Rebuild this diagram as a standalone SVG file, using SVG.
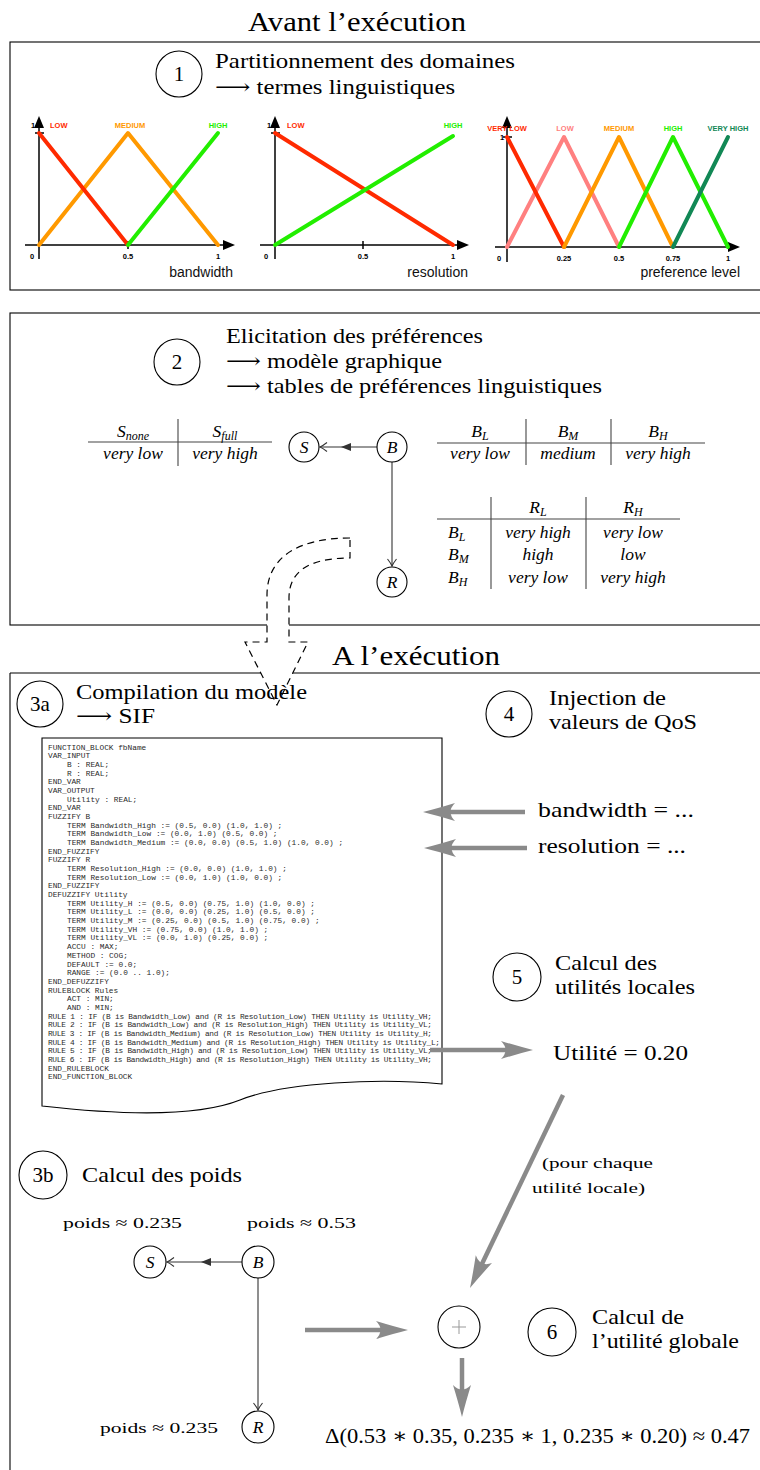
<svg xmlns="http://www.w3.org/2000/svg" xmlns:xlink="http://www.w3.org/1999/xlink" width="760" height="1470" viewBox="0 0 760 1470">
<style>
.lbl{font-family:"Liberation Serif","DejaVu Serif",serif;font-size:21px;fill:#000}
.ttl{font-size:28px}
.num{text-anchor:middle}
.it{font-family:"Liberation Serif","DejaVu Serif",serif;font-style:italic;font-size:17.5px;text-anchor:middle}
.sub{font-size:12px}
.code{font-family:"Liberation Mono","DejaVu Sans Mono",monospace;font-size:7.8px;fill:#2a2a2a}
.ax{font-family:"Liberation Sans",Arial,sans-serif;font-size:7.5px;font-weight:bold}
.axl{font-family:"Liberation Sans",Arial,sans-serif;font-size:14px;fill:#111}
.box{fill:none;stroke:#000;stroke-width:1.1}
.g{stroke:#8a8a8a;stroke-width:4.5;fill:none}
.nd{fill:#fff;stroke:#000;stroke-width:1.1}
.e{stroke:#333;stroke-width:1.1;fill:none}
.axis{stroke:#000;stroke-width:1.5}
.c{fill:none;stroke-width:4;stroke-linecap:round;stroke-linejoin:round}
.tb{stroke:#444;stroke-width:1.1}
.sm{font-size:15.5px}
</style>
<defs>
<path id="gh" d="M0,0 Q-14,-3.5 -32,-9 Q-23,0 -32,9 Q-14,3.5 0,0 Z" fill="#8a8a8a"/>
<marker id="op" markerUnits="userSpaceOnUse" markerWidth="12" markerHeight="12" viewBox="-10 -6 12 12" refX="0" refY="0" orient="auto" overflow="visible">
<path d="M-7,-4.5 Q-2.5,-1 0,0 Q-2.5,1 -7,4.5" fill="none" stroke="#333" stroke-width="1.1"/>
</marker>
</defs>

<!-- Section 1 -->
<g id="avant">
<text class="lbl ttl" x="248" y="31" textLength="218" lengthAdjust="spacingAndGlyphs">Avant l’exécution</text>
<rect class="box" x="10" y="42" width="760" height="248"/>
</g>
<g id="step1">
<circle class="nd" cx="179" cy="74" r="23"/>
<text class="lbl num" x="179" y="81">1</text>
<text class="lbl" x="215" y="68" textLength="300" lengthAdjust="spacingAndGlyphs">Partitionnement des domaines</text>
<text class="lbl" x="215" y="94" textLength="240" lengthAdjust="spacingAndGlyphs">⟶ termes linguistiques</text>
</g>
<g id="chart-bandwidth">
<line class="axis" x1="25" y1="245" x2="226" y2="245"/>
<polygon points="235,245 223,240 223,250"/>
<line class="axis" x1="39" y1="259" x2="39" y2="126"/>
<polygon points="39,116 34,128 44,128"/>
<line class="axis" x1="35" y1="133" x2="44" y2="133"/>
<line class="axis" x1="128" y1="241" x2="128" y2="249"/>
<polyline class="c" stroke="#ff9900" points="39,245 128,133 218,245"/>
<polyline class="c" stroke="#ff2a00" points="39,133 128,245"/>
<polyline class="c" stroke="#22ee00" points="128,245 218,133"/>
<text class="ax" x="31" y="128">1</text>
<text class="ax" x="50" y="128" fill="#ff2a00">LOW</text>
<text class="ax" x="130" y="128" fill="#ff9900" text-anchor="middle">MEDIUM</text>
<text class="ax" x="218" y="128" fill="#22ee00" text-anchor="middle">HIGH</text>
<text class="ax" x="32" y="259" text-anchor="middle">0</text>
<text class="ax" x="128" y="259" text-anchor="middle">0.5</text>
<text class="ax" x="218" y="259" text-anchor="middle">1</text>
<text class="axl" x="233" y="277" text-anchor="end">bandwidth</text>
</g>
<g id="chart-resolution">
<line class="axis" x1="260" y1="245" x2="460" y2="245"/>
<polygon points="469,245 457,240 457,250"/>
<line class="axis" x1="275" y1="259" x2="275" y2="126"/>
<polygon points="275,116 270,128 280,128"/>
<line class="axis" x1="271" y1="133" x2="280" y2="133"/>
<line class="axis" x1="363" y1="241" x2="363" y2="249"/>
<polyline class="c" stroke="#ff2a00" points="275,133 453,245"/>
<polyline class="c" stroke="#22ee00" points="275,245 453,136"/>
<text class="ax" x="267" y="128">1</text>
<text class="ax" x="287" y="128" fill="#ff2a00">LOW</text>
<text class="ax" x="453" y="128" fill="#22ee00" text-anchor="middle">HIGH</text>
<text class="ax" x="266" y="259" text-anchor="middle">0</text>
<text class="ax" x="363" y="259" text-anchor="middle">0.5</text>
<text class="ax" x="453" y="259" text-anchor="middle">1</text>
<text class="axl" x="468" y="277" text-anchor="end">resolution</text>
</g>
<g id="chart-preference">
<line class="axis" x1="495" y1="247" x2="731" y2="247"/>
<polygon points="740,247 728,242 728,252"/>
<line class="axis" x1="507" y1="262" x2="507" y2="126"/>
<polygon points="507,116 502,128 512,128"/>
<line class="axis" x1="503" y1="137" x2="512" y2="137"/>
<polyline class="c" stroke="#ff8080" points="507,247 564,137 619,247"/>
<polyline class="c" stroke="#ff2a00" points="507,137 564,247"/>
<polyline class="c" stroke="#ff9900" points="564,247 619,137 673,247"/>
<polyline class="c" stroke="#22ee00" points="619,247 673,137 728,247"/>
<polyline class="c" stroke="#118855" points="673,247 728,137"/>
<text class="ax" x="500" y="140">1</text>
<text class="ax" x="507" y="131" fill="#ff2a00" text-anchor="middle">VERY LOW</text>
<text class="ax" x="565" y="131" fill="#ff8080" text-anchor="middle">LOW</text>
<text class="ax" x="619" y="131" fill="#ff9900" text-anchor="middle">MEDIUM</text>
<text class="ax" x="673" y="131" fill="#22ee00" text-anchor="middle">HIGH</text>
<text class="ax" x="728" y="131" fill="#118855" text-anchor="middle">VERY HIGH</text>
<text class="ax" x="499" y="261" text-anchor="middle">0</text>
<text class="ax" x="564" y="261" text-anchor="middle">0.25</text>
<text class="ax" x="619" y="261" text-anchor="middle">0.5</text>
<text class="ax" x="673" y="261" text-anchor="middle">0.75</text>
<text class="ax" x="728" y="261" text-anchor="middle">1</text>
<text class="axl" x="740" y="277" text-anchor="end">preference level</text>
</g>

<!-- Section 2 -->
<g id="section2-box">
<rect class="box" x="10" y="313" width="760" height="312"/>
</g>
<g id="step2">
<circle class="nd" cx="177" cy="362" r="23"/>
<text class="lbl num" x="177" y="369">2</text>
<text class="lbl" x="226" y="343" textLength="257" lengthAdjust="spacingAndGlyphs">Elicitation des préférences</text>
<text class="lbl" x="226" y="368" textLength="216" lengthAdjust="spacingAndGlyphs">⟶ modèle graphique</text>
<text class="lbl" x="226" y="393" textLength="376" lengthAdjust="spacingAndGlyphs">⟶ tables de préférences linguistiques</text>
</g>
<g id="table-S">
<line class="tb" x1="88" y1="442" x2="272" y2="442"/>
<line class="tb" x1="178" y1="419" x2="178" y2="466"/>
<text class="it" x="133" y="437">S<tspan class="sub" dy="3">none</tspan></text>
<text class="it" x="225" y="437">S<tspan class="sub" dy="3">full</tspan></text>
<text class="it" x="133" y="459">very low</text>
<text class="it" x="225" y="459">very high</text>
</g>
<g id="table-B">
<line class="tb" x1="437" y1="443" x2="705" y2="443"/>
<line class="tb" x1="526" y1="419" x2="526" y2="465"/>
<line class="tb" x1="611" y1="419" x2="611" y2="465"/>
<text class="it" x="480" y="437">B<tspan class="sub" dy="3">L</tspan></text>
<text class="it" x="568" y="437">B<tspan class="sub" dy="3">M</tspan></text>
<text class="it" x="658" y="437">B<tspan class="sub" dy="3">H</tspan></text>
<text class="it" x="480" y="459">very low</text>
<text class="it" x="568" y="459">medium</text>
<text class="it" x="658" y="459">very high</text>
</g>
<g id="table-R">
<line class="tb" x1="437" y1="519" x2="680" y2="519"/>
<line class="tb" x1="491" y1="497" x2="491" y2="589"/>
<line class="tb" x1="586" y1="497" x2="586" y2="589"/>
<text class="it" x="538" y="513">R<tspan class="sub" dy="3">L</tspan></text>
<text class="it" x="633" y="513">R<tspan class="sub" dy="3">H</tspan></text>
<text class="it" x="448" y="538" style="text-anchor:start">B<tspan class="sub" dy="3">L</tspan></text>
<text class="it" x="448" y="560" style="text-anchor:start">B<tspan class="sub" dy="3">M</tspan></text>
<text class="it" x="448" y="583" style="text-anchor:start">B<tspan class="sub" dy="3">H</tspan></text>
<text class="it" x="538" y="538">very high</text>
<text class="it" x="633" y="538">very low</text>
<text class="it" x="538" y="560">high</text>
<text class="it" x="633" y="560">low</text>
<text class="it" x="538" y="583">very low</text>
<text class="it" x="633" y="583">very high</text>
</g>
<g id="connectors-2">
<line class="e" x1="377" y1="447" x2="320" y2="447" marker-end="url(#op)"/>
<polygon points="341,447 351,443 351,451" fill="#333"/>
<line class="e" x1="392" y1="462" x2="392" y2="566" marker-end="url(#op)"/>
</g>
<g id="node-S1"><circle class="nd" cx="304" cy="447" r="15"/><text class="it" x="304" y="453">S</text></g>
<g id="node-B1"><circle class="nd" cx="392" cy="447" r="15"/><text class="it" x="392" y="453">B</text></g>
<g id="node-R1"><circle class="nd" cx="392" cy="582" r="15"/><text class="it" x="392" y="588">R</text></g>

<!-- Section 3 -->
<g id="section3-box">
<text class="lbl ttl" x="332" y="665" textLength="168" lengthAdjust="spacingAndGlyphs">A l’exécution</text>
<line class="box" x1="10" y1="673" x2="770" y2="673"/>
<line class="box" x1="10" y1="673" x2="10" y2="1475"/>
</g>
<g id="dashed-arrow">
<path d="M350,538 C300,538 267,556 267,595 L267,642 L245,642 L277,705 L308,642 L289,642 L289,598 C289,572 308,558 350,558 Z" fill="#fff" stroke="#000" stroke-width="1.2" stroke-dasharray="7,5"/>
</g>
<g id="step3a">
<circle class="nd" cx="40" cy="704" r="23"/>
<text class="lbl num" x="40" y="711">3a</text>
<text class="lbl" x="76" y="699" textLength="231" lengthAdjust="spacingAndGlyphs">Compilation du modèle</text>
<text class="lbl" x="76" y="723" textLength="79" lengthAdjust="spacingAndGlyphs">⟶ SIF</text>
</g>
<g id="step4">
<circle class="nd" cx="509" cy="714" r="23"/>
<text class="lbl num" x="509" y="721">4</text>
<text class="lbl" x="549" y="705" textLength="117" lengthAdjust="spacingAndGlyphs">Injection de</text>
<text class="lbl" x="549" y="729" textLength="148" lengthAdjust="spacingAndGlyphs">valeurs de QoS</text>
</g>
<g id="sif-document">
<path d="M42,738 L442,738 L442,1084 C380,1078 285,1082 240,1100 C200,1116 130,1116 42,1106 Z" fill="#fff" stroke="#000" stroke-width="1.1"/>
<text class="code" x="48" y="749.5">FUNCTION_BLOCK fbName</text>
<text class="code" x="48" y="758.2">VAR_INPUT</text>
<text class="code" x="67" y="766.9">B : REAL;</text>
<text class="code" x="67" y="775.5">R : REAL;</text>
<text class="code" x="48" y="784.2">END_VAR</text>
<text class="code" x="48" y="792.9">VAR_OUTPUT</text>
<text class="code" x="67" y="801.6">Utility : REAL;</text>
<text class="code" x="48" y="810.3">END_VAR</text>
<text class="code" x="48" y="818.9">FUZZIFY B</text>
<text class="code" x="67" y="827.6">TERM Bandwidth_High :=  (0.5, 0.0) (1.0, 1.0) ;</text>
<text class="code" x="67" y="836.3">TERM Bandwidth_Low :=  (0.0, 1.0) (0.5, 0.0) ;</text>
<text class="code" x="67" y="845.0">TERM Bandwidth_Medium :=  (0.0, 0.0) (0.5, 1.0) (1.0, 0.0) ;</text>
<text class="code" x="48" y="853.7">END_FUZZIFY</text>
<text class="code" x="48" y="862.3">FUZZIFY R</text>
<text class="code" x="67" y="871.0">TERM Resolution_High :=  (0.0, 0.0) (1.0, 1.0) ;</text>
<text class="code" x="67" y="879.7">TERM Resolution_Low :=  (0.0, 1.0) (1.0, 0.0) ;</text>
<text class="code" x="48" y="888.4">END_FUZZIFY</text>
<text class="code" x="48" y="897.0">DEFUZZIFY Utility</text>
<text class="code" x="67" y="905.7">TERM Utility_H :=  (0.5, 0.0) (0.75, 1.0) (1.0, 0.0) ;</text>
<text class="code" x="67" y="914.4">TERM Utility_L :=  (0.0, 0.0) (0.25, 1.0) (0.5, 0.0) ;</text>
<text class="code" x="67" y="923.1">TERM Utility_M :=  (0.25, 0.0) (0.5, 1.0) (0.75, 0.0) ;</text>
<text class="code" x="67" y="931.8">TERM Utility_VH :=  (0.75, 0.0) (1.0, 1.0) ;</text>
<text class="code" x="67" y="940.4">TERM Utility_VL :=  (0.0, 1.0) (0.25, 0.0) ;</text>
<text class="code" x="67" y="949.1">ACCU : MAX;</text>
<text class="code" x="67" y="957.8">METHOD : COG;</text>
<text class="code" x="67" y="966.5">DEFAULT := 0.0;</text>
<text class="code" x="67" y="975.1">RANGE := (0.0 .. 1.0);</text>
<text class="code" x="48" y="983.8">END_DEFUZZIFY</text>
<text class="code" x="48" y="992.5">RULEBLOCK Rules</text>
<text class="code" x="67" y="1001.2">ACT : MIN;</text>
<text class="code" x="67" y="1009.9">AND : MIN;</text>
<text class="code" x="48" y="1018.5" textLength="384">RULE 1 : IF (B is Bandwidth_Low) and (R is Resolution_Low) THEN Utility is Utility_VH;</text>
<text class="code" x="48" y="1027.2" textLength="384">RULE 2 : IF (B is Bandwidth_Low) and (R is Resolution_High) THEN Utility is Utility_VL;</text>
<text class="code" x="48" y="1035.9" textLength="384">RULE 3 : IF (B is Bandwidth_Medium) and (R is Resolution_Low) THEN Utility is Utility_H;</text>
<text class="code" x="48" y="1044.6" textLength="392">RULE 4 : IF (B is Bandwidth_Medium) and (R is Resolution_High) THEN Utility is Utility_L;</text>
<text class="code" x="48" y="1053.3" textLength="384">RULE 5 : IF (B is Bandwidth_High) and (R is Resolution_Low) THEN Utility is Utility_VL;</text>
<text class="code" x="48" y="1061.9" textLength="384">RULE 6 : IF (B is Bandwidth_High) and (R is Resolution_High) THEN Utility is Utility_VH;</text>
<text class="code" x="48" y="1070.6">END_RULEBLOCK</text>
<text class="code" x="48" y="1079.3">END_FUNCTION_BLOCK</text>
</g>
<g id="qos-values">
<text class="lbl" x="538" y="817" textLength="156" lengthAdjust="spacingAndGlyphs">bandwidth = ...</text>
<text class="lbl" x="538" y="853" textLength="148" lengthAdjust="spacingAndGlyphs">resolution = ...</text>
</g>
<g id="step5">
<circle class="nd" cx="517" cy="977" r="24"/>
<text class="lbl num" x="517" y="984">5</text>
<text class="lbl" x="555" y="970" textLength="102" lengthAdjust="spacingAndGlyphs">Calcul des</text>
<text class="lbl" x="555" y="994" textLength="140" lengthAdjust="spacingAndGlyphs">utilités locales</text>
</g>
<g id="local-utility">
<text class="lbl" x="553" y="1060" textLength="135" lengthAdjust="spacingAndGlyphs">Utilité = 0.20</text>
</g>
<g id="step3b">
<circle class="nd" cx="43" cy="1175" r="24"/>
<text class="lbl num" x="43" y="1182">3b</text>
<text class="lbl" x="82" y="1182" textLength="160" lengthAdjust="spacingAndGlyphs">Calcul des poids</text>
</g>
<g id="weights">
<text class="lbl sm" x="63" y="1228" textLength="119" lengthAdjust="spacingAndGlyphs">poids ≈ 0.235</text>
<text class="lbl sm" x="247" y="1228" textLength="109" lengthAdjust="spacingAndGlyphs">poids ≈ 0.53</text>
<text class="lbl sm" x="100" y="1433" textLength="118" lengthAdjust="spacingAndGlyphs">poids ≈ 0.235</text>
</g>
<g id="connectors-3b">
<line class="e" x1="242" y1="1262" x2="167" y2="1262" marker-end="url(#op)"/>
<polygon points="201,1262 211,1258 211,1266" fill="#333"/>
<line class="e" x1="258" y1="1278" x2="258" y2="1410" marker-end="url(#op)"/>
</g>
<g id="node-S2"><circle class="nd" cx="150" cy="1262" r="16"/><text class="it" x="150" y="1268">S</text></g>
<g id="node-B2"><circle class="nd" cx="258" cy="1262" r="16"/><text class="it" x="258" y="1268">B</text></g>
<g id="node-R2"><circle class="nd" cx="258" cy="1427" r="16"/><text class="it" x="258" y="1433">R</text></g>
<g id="sum-node">
<circle class="nd" cx="459" cy="1327" r="21"/>
<line x1="452" y1="1327" x2="466" y2="1327" stroke="#999" stroke-width="1"/>
<line x1="459" y1="1320" x2="459" y2="1334" stroke="#999" stroke-width="1"/>
</g>
<g id="step6">
<circle class="nd" cx="552" cy="1332" r="24"/>
<text class="lbl num" x="552" y="1339">6</text>
<text class="lbl" x="592" y="1324" textLength="92" lengthAdjust="spacingAndGlyphs">Calcul de</text>
<text class="lbl" x="592" y="1348" textLength="147" lengthAdjust="spacingAndGlyphs">l’utilité globale</text>
</g>
<g id="result">
<text class="lbl" x="325" y="1443" textLength="425" lengthAdjust="spacingAndGlyphs">Δ(0.53 ∗ 0.35, 0.235 ∗ 1, 0.235 ∗ 0.20) ≈ 0.47</text>
</g>
<g id="gray-connectors">
<line class="g" x1="525" y1="812" x2="445" y2="812"/>
<use xlink:href="#gh" transform="translate(423,812) rotate(180)"/>
<line class="g" x1="527" y1="848" x2="446" y2="848"/>
<use xlink:href="#gh" transform="translate(424,848) rotate(180)"/>
<line class="g" x1="430" y1="1050" x2="511" y2="1050"/>
<use xlink:href="#gh" transform="translate(533,1050)"/>
<line class="g" x1="563" y1="1095" x2="480" y2="1268"/>
<use xlink:href="#gh" transform="translate(470,1288) rotate(115.7)"/>
<text class="lbl sm" x="542" y="1168" textLength="111" lengthAdjust="spacingAndGlyphs">(pour chaque</text>
<text class="lbl sm" x="532" y="1193" textLength="113" lengthAdjust="spacingAndGlyphs">utilité locale)</text>
<line class="g" x1="305" y1="1330" x2="386" y2="1330"/>
<use xlink:href="#gh" transform="translate(408,1330)"/>
<line class="g" x1="462" y1="1358" x2="462" y2="1395"/>
<use xlink:href="#gh" transform="translate(462,1417) rotate(90)"/>
</g>
</svg>
